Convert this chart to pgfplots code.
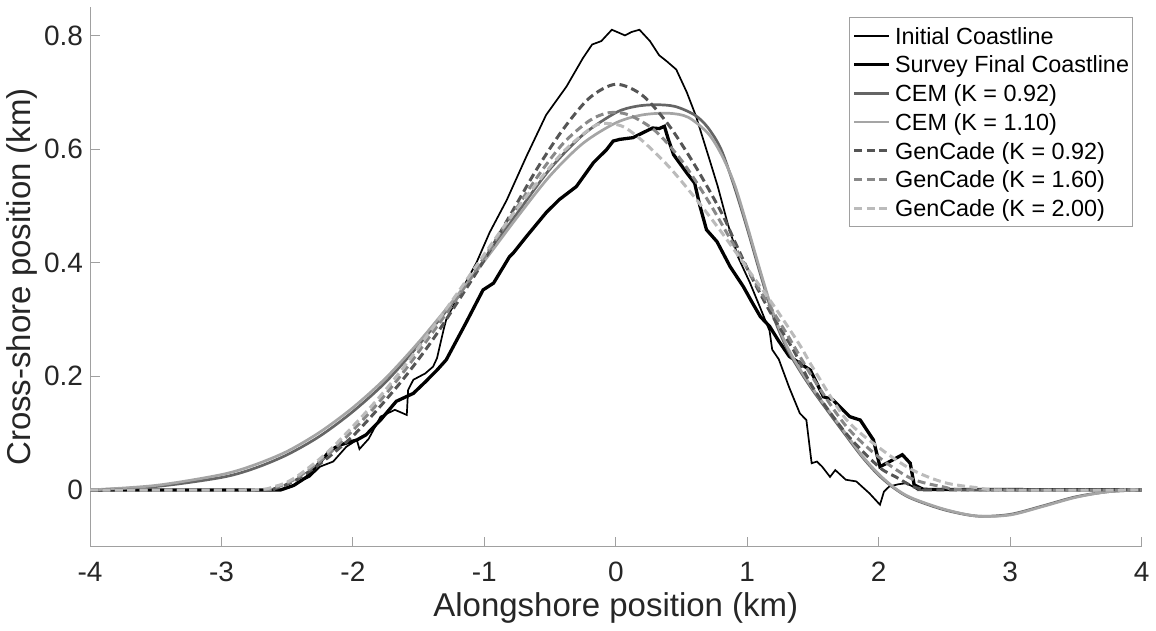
\documentclass[border=0pt]{standalone}
\usepackage{fontspec}
\setmainfont{Liberation Sans}
\usepackage{pgfplots}
\pgfplotsset{compat=1.18}
\definecolor{axisgray}{HTML}{A0A0A0}
\definecolor{tickgray}{HTML}{262626}
\definecolor{cemA}{HTML}{656565}
\definecolor{cemB}{HTML}{A5A5A5}
\definecolor{genA}{HTML}{555555}
\definecolor{genB}{HTML}{888888}
\definecolor{genC}{HTML}{BBBBBB}
\begin{document}
\begin{tikzpicture}
\begin{axis}[
  scale only axis, width=526pt, height=270pt,
  xmin=-4, xmax=4, ymin=-0.1, ymax=0.85,
  axis x line*=bottom, axis y line*=left,
  axis line style={color=axisgray, line width=0.5pt},
  tick align=inside, major tick length=5pt,
  tick style={color=axisgray, line width=0.5pt},
  xtick={-4,-3,-2,-1,0,1,2,3,4},
  xticklabels={-4,-3,-2,-1,0,1,2,3,4},
  ytick={0,0.2,0.4,0.6,0.8},
  yticklabels={0,0.2,0.4,0.6,0.8},
  ticklabel style={font=\fontsize{14}{16}\selectfont, text=tickgray},
  xticklabel style={yshift=-4.3pt},
  xlabel={Alongshore position (km)},
  ylabel={Cross-shore position (km)},
  label style={font=\fontsize{16.5}{19}\selectfont, text=tickgray},
  xlabel style={at={(rel axis cs:0.5,0)}, anchor=base, yshift=-35pt},
  ylabel style={at={(rel axis cs:0,0.5)}, anchor=center, yshift=34pt},
  legend cell align=left,
  legend image code/.code={\draw[#1] (0pt,0pt) -- (17.5pt,0pt);},
  legend style={at={(rel axis cs:1,1)}, anchor=north east, xshift=-4.5pt, yshift=-5pt,
    draw=axisgray, line width=0.5pt, fill=white,
    font=\fontsize{11.7}{14}\selectfont, text=black,
    inner xsep=1.5pt, inner ysep=5pt, column sep=2pt, row sep=5.95pt,
    nodes={inner sep=0pt, text height=8.4pt, text depth=0pt}},
]
% Initial coastline
\addplot[black, line width=0.85pt] coordinates {
(-4,0) (-2.6,0) (-2.5,0.003) (-2.45,0.008) (-2.38,0.018) (-2.33,0.023) (-2.25,0.041) (-2.15,0.05)
(-2.05,0.076) (-1.97,0.088) (-1.95,0.072) (-1.88,0.09) (-1.79,0.129) (-1.68,0.141) (-1.59,0.132)
(-1.58,0.176) (-1.54,0.194) (-1.45,0.205) (-1.39,0.217) (-1.36,0.232) (-1.31,0.282) (-1.29,0.300)
(-1.2,0.34) (-1.13,0.37) (-1.06,0.40) (-0.96,0.453) (-0.83,0.51) (-0.68,0.587) (-0.53,0.66)
(-0.375,0.71) (-0.25,0.76) (-0.18,0.784) (-0.11,0.79) (-0.03,0.81) (0.02,0.805) (0.07,0.80)
(0.12,0.806) (0.18,0.81) (0.26,0.79) (0.33,0.765) (0.385,0.755) (0.46,0.74) (0.54,0.70)
(0.61,0.658) (0.715,0.58) (0.776,0.534) (0.85,0.47) (0.93,0.41) (1.02,0.365) (1.1,0.32)
(1.17,0.28) (1.19,0.247) (1.24,0.23) (1.32,0.18) (1.40,0.135) (1.45,0.123) (1.49,0.047)
(1.53,0.05) (1.57,0.041) (1.63,0.023) (1.67,0.035) (1.75,0.018) (1.83,0.015) (1.93,-0.006)
(2.01,-0.026) (2.04,-0.003) (2.08,0.006) (2.15,0.01) (2.21,0.012) (2.26,0.006) (2.3,0) (4,0)
};
\addlegendentry{Initial Coastline}
% Survey final coastline
\addplot[black, line width=1.65pt] coordinates {
(-4,0) (-2.55,0) (-2.45,0.008) (-2.35,0.023) (-2.28,0.041) (-2.17,0.07) (-2.1,0.079) (-1.97,0.088)
(-1.9,0.097) (-1.79,0.123) (-1.67,0.156) (-1.54,0.17) (-1.45,0.19) (-1.36,0.211) (-1.29,0.229)
(-1.14,0.294) (-1.01,0.352) (-0.93,0.364) (-0.81,0.41) (-0.78,0.417) (-0.68,0.446) (-0.53,0.488)
(-0.43,0.511) (-0.3,0.534) (-0.17,0.576) (-0.07,0.599) (-0.02,0.614) (0.03,0.617) (0.13,0.62)
(0.2,0.628) (0.28,0.637) (0.33,0.636) (0.37,0.64) (0.4,0.617) (0.44,0.59) (0.54,0.558)
(0.6,0.54) (0.64,0.5) (0.69,0.458) (0.77,0.437) (0.87,0.393) (0.97,0.358) (1.04,0.329)
(1.1,0.305) (1.17,0.288) (1.24,0.262) (1.32,0.235) (1.40,0.223) (1.48,0.211) (1.58,0.164)
(1.65,0.159) (1.78,0.129) (1.86,0.123) (1.96,0.088) (2.01,0.041) (2.06,0.047) (2.18,0.062)
(2.24,0.047) (2.27,0.009) (2.34,0.001) (4,0)
};
\addlegendentry{Survey Final Coastline}
% CEM K=0.92
\addplot[cemA, line width=1.35pt, smooth] coordinates {
(-4,0) (-3.5,0.006) (-3,0.022) (-2.75,0.038) (-2.5,0.062) (-2.25,0.095) (-2,0.138) (-1.75,0.19)
(-1.5,0.255) (-1.25,0.327) (-1,0.405) (-0.75,0.487) (-0.5,0.565) (-0.25,0.625) (0,0.664)
(0.15,0.675) (0.3,0.678) (0.45,0.675) (0.6,0.66) (0.7,0.638) (0.8,0.6) (0.9,0.535) (1,0.46)
(1.1,0.38) (1.2,0.305) (1.3,0.25) (1.4,0.21) (1.5,0.175) (1.625,0.135) (1.75,0.096) (1.875,0.058)
(2,0.026) (2.125,0.002) (2.25,-0.015) (2.5,-0.035) (2.75,-0.046) (3,-0.043) (3.25,-0.028)
(3.5,-0.012) (3.75,-0.003) (4,0)
};
\addlegendentry{CEM (K = 0.92)}
% CEM K=1.10
\addplot[cemB, line width=1.35pt, smooth] coordinates {
(-4,0) (-3.5,0.008) (-3,0.027) (-2.75,0.044) (-2.5,0.068) (-2.25,0.102) (-2,0.145) (-1.75,0.197)
(-1.5,0.26) (-1.25,0.33) (-1,0.403) (-0.75,0.48) (-0.5,0.553) (-0.25,0.61) (0,0.646)
(0.2,0.66) (0.4,0.663) (0.55,0.656) (0.7,0.628) (0.8,0.592) (0.9,0.54) (1,0.465) (1.1,0.385)
(1.2,0.31) (1.3,0.254) (1.4,0.213) (1.5,0.178) (1.625,0.138) (1.75,0.099) (1.875,0.06)
(2,0.028) (2.125,0.003) (2.25,-0.014) (2.5,-0.034) (2.75,-0.046) (3,-0.044) (3.25,-0.029)
(3.5,-0.013) (3.75,-0.003) (4,0)
};
\addlegendentry{CEM (K = 1.10)}
% GenCade K=0.92
\addplot[genA, line width=1.5pt, dash pattern=on 4pt off 2.2pt, smooth] coordinates {
(-4,0) (-2.7,0) (-2.6,0.002) (-2.5,0.01) (-2.4,0.022) (-2.2,0.055) (-2,0.095) (-1.8,0.145)
(-1.6,0.2) (-1.4,0.262) (-1.2,0.332) (-1,0.405) (-0.8,0.485) (-0.6,0.565) (-0.4,0.635)
(-0.2,0.69) (0,0.714) (0.2,0.695) (0.4,0.643) (0.6,0.572) (0.8,0.49) (0.9,0.44) (1,0.39)
(1.1,0.345) (1.2,0.303) (1.35,0.247) (1.5,0.18) (1.75,0.1) (2,0.041) (2.13,0.023) (2.26,0.006)
(2.35,0.001) (2.5,0) (4,0)
};
\addlegendentry{GenCade (K = 0.92)}
% GenCade K=1.60
\addplot[genB, line width=1.5pt, dash pattern=on 4pt off 2.2pt, smooth] coordinates {
(-4,0) (-2.75,0) (-2.6,0.004) (-2.5,0.012) (-2.4,0.025) (-2.2,0.06) (-2,0.105) (-1.8,0.155)
(-1.6,0.212) (-1.4,0.275) (-1.2,0.34) (-1,0.41) (-0.8,0.48) (-0.6,0.55) (-0.4,0.61) (-0.2,0.65)
(-0.05,0.664) (0.1,0.66) (0.3,0.632) (0.5,0.58) (0.7,0.51) (0.9,0.43) (1.1,0.35) (1.3,0.275)
(1.5,0.197) (1.75,0.113) (2,0.058) (2.25,0.02) (2.5,0.005) (2.7,0) (4,0)
};
\addlegendentry{GenCade (K = 1.60)}
% GenCade K=2.00
\addplot[genC, line width=1.5pt, dash pattern=on 4pt off 2.2pt, smooth] coordinates {
(-4,0) (-2.8,0) (-2.6,0.006) (-2.5,0.014) (-2.4,0.028) (-2.2,0.065) (-2,0.112) (-1.8,0.163)
(-1.6,0.22) (-1.4,0.283) (-1.2,0.348) (-1,0.415) (-0.8,0.48) (-0.6,0.54) (-0.4,0.595)
(-0.2,0.635) (-0.1,0.645) (0.05,0.64) (0.2,0.615) (0.4,0.57) (0.6,0.515) (0.8,0.455) (1,0.39)
(1.2,0.325) (1.4,0.255) (1.5,0.215) (1.75,0.125) (2,0.075) (2.25,0.036) (2.5,0.013)
(2.75,0.004) (2.95,0) (4,0)
};
\addlegendentry{GenCade (K = 2.00)}
\end{axis}
\path ([xshift=-45pt,yshift=-40pt]current axis.south west) rectangle ([xshift=7pt,yshift=3.5pt]current axis.north east);
\end{tikzpicture}
\end{document}
